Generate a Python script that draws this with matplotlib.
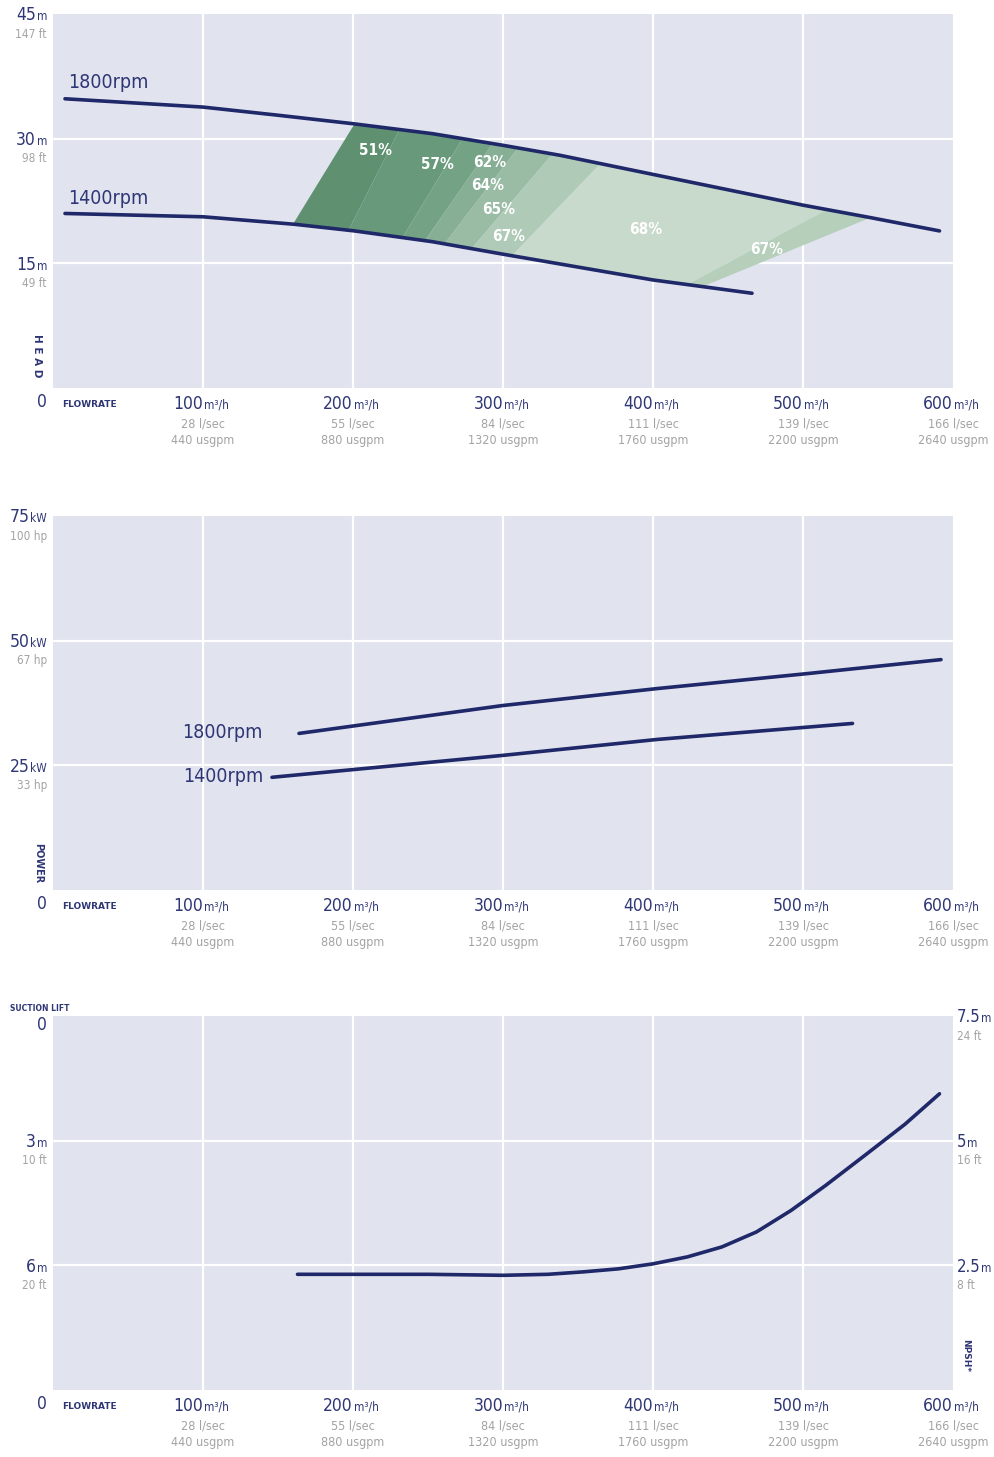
import numpy as np
import matplotlib
matplotlib.use('Agg')
import matplotlib.pyplot as plt
from matplotlib import transforms

plt.rcParams['font.family'] = ['DejaVu Sans']
plt.rcParams['font.stretch'] = 'condensed'

NAVY = '#2e3675'
LINE = '#1f2868'
GRAY = '#a3a3a3'
BG = '#e1e3ee'

# x axis (flowrate) labels, shared by all three panels
flow_ticks = [100, 200, 300, 400, 500, 600]
lsec_labels = ['28 l/sec', '55 l/sec', '84 l/sec', '111 l/sec', '139 l/sec', '166 l/sec']
usgpm_labels = ['440 usgpm', '880 usgpm', '1320 usgpm', '1760 usgpm', '2200 usgpm', '2640 usgpm']

# head curves (m3/h -> m)
head_q_1800 = [8, 100, 151, 200, 253, 300, 338, 400, 500, 545, 591]
head_1800 = [34.8, 33.8, 32.8, 31.8, 30.6, 29.2, 28.0, 25.7, 22.0, 20.5, 18.9]
head_q_1400 = [8, 100, 161, 201, 253, 300, 400, 466]
head_1400 = [21.0, 20.6, 19.7, 18.9, 17.6, 16.1, 13.0, 11.4]

# efficiency bands between the two head curves
eff_labels = ['51%', '57%', '62%', '64%', '65%', '67%', '68%', '67%']
eff_bottom_from = [160, 197, 233, 248, 261, 279, 306, 423]
eff_bottom_to = [197, 233, 248, 261, 279, 306, 423, 433]
eff_top_from = [201, 231, 273, 293, 310, 333, 365, 516]
eff_top_to = [231, 273, 293, 310, 333, 365, 516, 545]
eff_colors = ['#5f9070', '#68997a', '#74a285', '#87af95', '#9abca5', '#afcbb7', '#c8dacc', '#b5cfbb']
eff_label_q = [215, 256, 291, 290, 297, 304, 395, 476]
eff_label_h = [28.6, 26.9, 27.1, 24.4, 21.5, 18.2, 19.1, 16.7]

# power curves (m3/h -> kW)
power_q_1800 = [164, 300, 403, 503, 592]
power_1800 = [31.4, 37.0, 40.4, 43.4, 46.2]
power_q_1400 = [146, 300, 403, 533]
power_1400 = [22.6, 27.0, 30.2, 33.4]

# NPSH curve (m3/h -> m)
npsh_q = [163, 250, 300, 330, 354, 377, 400, 423, 446, 469, 492, 515, 541, 568, 591]
npsh = [2.32, 2.32, 2.30, 2.32, 2.37, 2.43, 2.53, 2.67, 2.87, 3.17, 3.60, 4.10, 4.70, 5.33, 5.94]

head_ticks = [45, 30, 15]
head_ft = ['147 ft', '98 ft', '49 ft']
power_ticks = [75, 50, 25]
power_hp = ['100 hp', '67 hp', '33 hp']
lift_pos = [5, 2.5]
lift_labels = ['3', '6']
lift_ft = ['10 ft', '20 ft']
npsh_ticks = [7.5, 5, 2.5]
npsh_ft = ['24 ft', '16 ft', '8 ft']


def base_axes(fig, top_px, ymax, ygrid):
    H = 1457.0
    ax = fig.add_axes([53 / 994, 1 - (top_px + 374) / H, 900 / 994, 374 / H])
    ax.set_facecolor(BG)
    ax.set_xlim(0, 600)
    ax.set_ylim(0, ymax)
    for s in ax.spines.values():
        s.set_visible(False)
    ax.set_xticks([])
    ax.set_yticks([])
    for q in flow_ticks[:-1]:
        ax.axvline(q, color='white', lw=1.6, zorder=1)
    for y in ygrid:
        ax.axhline(y, color='white', lw=1.6, zorder=1)

    # flowrate labels
    for q, l1, l2 in zip(flow_ticks, lsec_labels, usgpm_labels):
        u = ax.annotate('m³/h', xy=(q, 0), xycoords=('data', 'axes fraction'),
                        xytext=(0.6, -15), textcoords='offset points',
                        ha='left', va='baseline', fontsize=8.5, color=NAVY)
        ax.annotate(str(q), xy=(0, 0), xycoords=(u, 'axes fraction'),
                    xytext=(-0.6, -15), textcoords='offset points',
                    ha='right', va='baseline', fontsize=12.5, color=NAVY)
        ax.annotate(l1, xy=(q, 0), xycoords=('data', 'axes fraction'),
                    xytext=(0, -26), textcoords='offset points',
                    ha='center', va='center', fontsize=9, color=GRAY)
        ax.annotate(l2, xy=(q, 0), xycoords=('data', 'axes fraction'),
                    xytext=(0, -38), textcoords='offset points',
                    ha='center', va='center', fontsize=9, color=GRAY)
    ax.annotate('0', xy=(-0.0122, 0), xycoords='axes fraction', xytext=(0, -10),
                textcoords='offset points', ha='center', va='center',
                fontsize=12.5, color=NAVY)
    ax.annotate('FLOWRATE', xy=(0.01, 0), xycoords='axes fraction', xytext=(0, -12),
                textcoords='offset points', ha='left', va='center',
                fontsize=6.5, color=NAVY, fontweight='bold', fontstretch='normal')
    return ax


def ylabel_left(ax, y, num, unit, sub):
    tr = transforms.blended_transform_factory(ax.transAxes, ax.transData)
    u = ax.annotate(unit, xy=(-0.0067, y), xycoords=tr, xytext=(0, -4.5),
                    textcoords='offset points', ha='right', va='baseline',
                    fontsize=8.5, color=NAVY)
    ax.annotate(num, xy=(0, y), xycoords=(u, tr), xytext=(-0.6, -4.5),
                textcoords='offset points', ha='right', va='baseline',
                fontsize=12.5, color=NAVY)
    ax.annotate(sub, xy=(-0.0067, y), xycoords=tr, xytext=(0, -14.5),
                textcoords='offset points', ha='right', va='center',
                fontsize=8.5, color=GRAY)


def ylabel_right(ax, y, num, unit, sub):
    tr = transforms.blended_transform_factory(ax.transAxes, ax.transData)
    n = ax.annotate(num, xy=(1.004, y), xycoords=tr, xytext=(0, -4.5),
                    textcoords='offset points', ha='left', va='baseline',
                    fontsize=12, color=NAVY)
    ax.annotate(unit, xy=(1, y), xycoords=(n, tr), xytext=(0.5, -4.5),
                textcoords='offset points', ha='left', va='baseline',
                fontsize=8.5, color=NAVY)
    ax.annotate(sub, xy=(1.004, y), xycoords=tr, xytext=(0, -14.5),
                textcoords='offset points', ha='left', va='center',
                fontsize=8.5, color=GRAY)


fig = plt.figure(figsize=(9.94, 14.57), dpi=100)

# ---- HEAD ----
ax1 = base_axes(fig, 14, 45, [15, 30])
for lab, b0, b1, t0, t1, c in zip(eff_labels, eff_bottom_from, eff_bottom_to,
                                   eff_top_from, eff_top_to, eff_colors):
    qb = np.linspace(b0, b1, 20)
    qt = np.linspace(t1, t0, 20)
    xs = np.concatenate([qb, qt])
    ys = np.concatenate([np.interp(qb, head_q_1400, head_1400),
                         np.interp(qt, head_q_1800, head_1800)])
    ax1.fill(xs, ys, color=c, lw=0, zorder=2)
for lab, q, h in zip(eff_labels, eff_label_q, eff_label_h):
    ax1.text(q, h, lab, color='white', fontsize=11, fontweight='bold',
             ha='center', va='center', zorder=4)
ax1.plot(head_q_1800, head_1800, color=LINE, lw=2.6, zorder=3, solid_capstyle='round')
ax1.plot(head_q_1400, head_1400, color=LINE, lw=2.6, zorder=3, solid_capstyle='round')
ax1.text(10, 36.7, '1800rpm', color=NAVY, fontsize=14, ha='left', va='center')
ax1.text(10, 22.8, '1400rpm', color=NAVY, fontsize=14, ha='left', va='center')
for y, ft in zip(head_ticks, head_ft):
    ylabel_left(ax1, y, str(y), 'm', ft)
ax1.text(-0.0178, 0.0856, 'H E A D', transform=ax1.transAxes, rotation=270,
         ha='center', va='center', fontsize=7.5, fontweight='bold', color=NAVY,
         fontstretch='normal')

# ---- POWER ----
ax2 = base_axes(fig, 516, 75, [25, 50])
ax2.plot(power_q_1800, power_1800, color=LINE, lw=2.6, zorder=3, solid_capstyle='round')
ax2.plot(power_q_1400, power_1400, color=LINE, lw=2.6, zorder=3, solid_capstyle='round')
ax2.text(140, 31.6, '1800rpm', color=NAVY, fontsize=14, ha='right', va='center')
ax2.text(140, 22.8, '1400rpm', color=NAVY, fontsize=14, ha='right', va='center')
for y, hp in zip(power_ticks, power_hp):
    ylabel_left(ax2, y, str(y), 'kW', hp)
ax2.text(-0.0167, 0.072, 'POWER', transform=ax2.transAxes, rotation=270,
         ha='center', va='center', fontsize=7, fontweight='bold', color=NAVY,
         fontstretch='normal')

# ---- SUCTION LIFT / NPSH ----
ax3 = base_axes(fig, 1016, 7.5, [2.5, 5])
ax3.plot(npsh_q, npsh, color=LINE, lw=2.6, zorder=3, solid_capstyle='round')
for y, lab, ft in zip(lift_pos, lift_labels, lift_ft):
    ylabel_left(ax3, y, lab, 'm', ft)
for y, ft in zip(npsh_ticks, npsh_ft):
    ylabel_right(ax3, y, ('%g' % y), 'm', ft)
ax3.annotate('0', xy=(-0.0067, 1), xycoords='axes fraction', xytext=(0, -6.5),
             textcoords='offset points', ha='right', va='center',
             fontsize=12.5, color=NAVY)
ax3.text(-0.0478, 1.021, 'SUCTION LIFT', transform=ax3.transAxes, ha='left',
         va='center', fontsize=5.5, fontweight='bold', color=NAVY, fontstretch='normal')
ax3.text(1.0144, 0.091, 'NPSH*', transform=ax3.transAxes, rotation=270,
         ha='center', va='center', fontsize=6.5, fontweight='bold', color=NAVY,
         fontstretch='normal')

fig.savefig('out.png', dpi=100)
